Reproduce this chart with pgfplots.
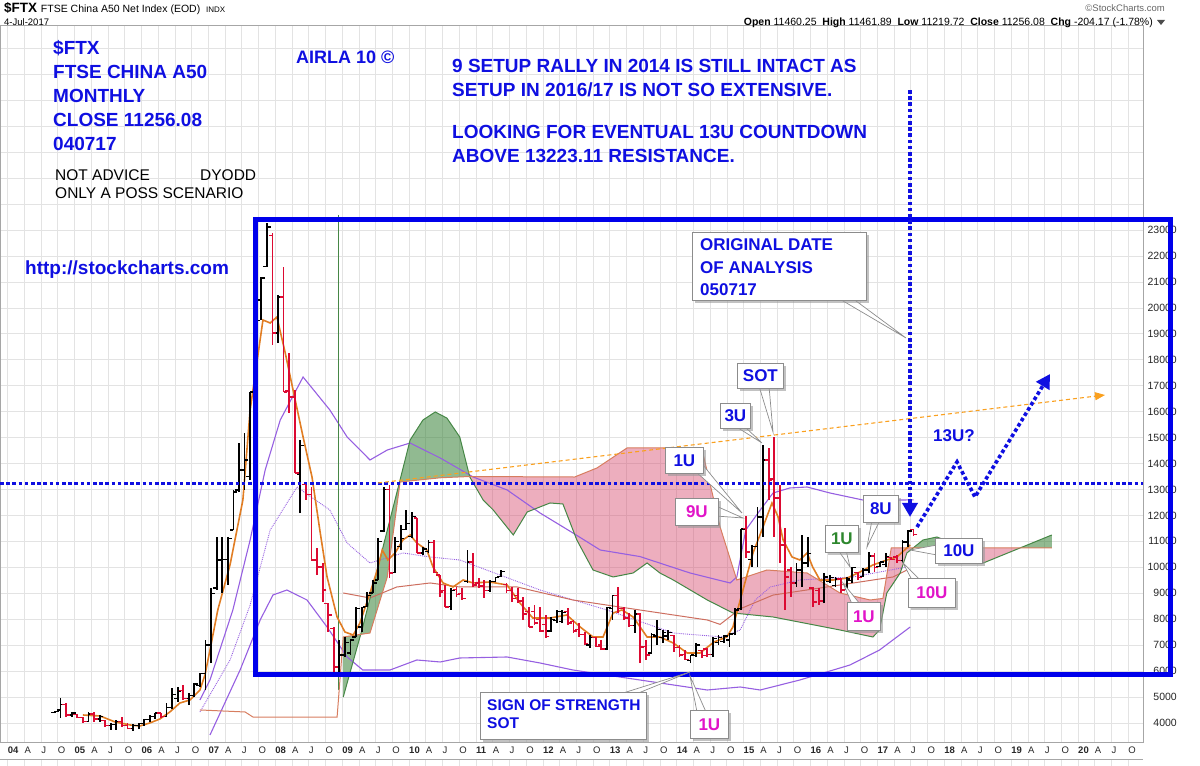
\documentclass[border=0pt]{standalone}
\usepackage{fontspec}
\setmainfont{Liberation Sans}
\usepackage{pgfplots}
\pgfplotsset{compat=1.18}
\usepackage{pgfplotstable}
\usepgfplotslibrary{fillbetween}
\usetikzlibrary{arrows.meta,shadows}

\definecolor{cblue}{RGB}{15,15,225}
\definecolor{rectblue}{RGB}{0,0,235}
\definecolor{cmag}{RGB}{225,20,200}
\definecolor{cgrn}{RGB}{45,135,45}
\definecolor{barred}{RGB}{220,10,50}
\definecolor{maorange}{RGB}{225,125,35}
\definecolor{bbviolet}{RGB}{150,95,225}
\definecolor{smabrown}{RGB}{205,110,95}
\definecolor{spanAc}{RGB}{70,135,70}
\definecolor{spanBc}{RGB}{215,125,95}
\definecolor{cloudgrn}{RGB}{55,130,55}
\definecolor{cloudpink}{RGB}{215,75,110}
\definecolor{trend}{RGB}{250,160,30}

% monthly bars, k = month index from Jan 2004
\pgfplotstableread{
k O H L C
8 4400 4470 4380 4430
9 4500 4960 4190 4700
11 4310 4430 4230 4380
14 4060 4435 4050 4350
16 4150 4300 4050 4250
18 3900 4000 3730 3950
19 3950 4116 3730 4050
22 3800 3950 3700 3900
23 3900 4000 3750 3980
24 3980 4150 3900 4130
25 4130 4300 4050 4250
26 4250 4400 4150 4380
28 4250 4770 4230 4600
29 4600 5350 4550 5100
30 4950 5390 4810 5200
32 4950 5160 4690 5050
33 5050 5540 5000 5500
34 5450 5930 5390 5900
35 5900 7200 5270 7000
36 7000 9200 6310 9000
37 9200 11170 9130 10280
38 10280 11170 9010 10300
39 10300 11170 9320 11100
40 11440 12980 11440 12900
41 12980 14790 12900 13750
42 13750 15180 12980 14140
43 13500 16760 13370 16760
44 16760 19800 16500 19500
45 20300 21190 19530 21150
46 21600 23270 21575 23120
48 19030 20490 18650 20420
52 13600 14900 12090 14700
59 6160 7200 5965 6620
60 6620 7310 6540 7100
61 6700 7200 6620 7200
62 7310 8470 7310 8400
63 7700 8470 7500 8450
64 8500 9050 8470 8900
65 9010 9510 9010 9400
66 9510 11130 9510 11000
67 11400 13100 11360 13000
69 9800 11170 9780 11000
70 10800 11630 10670 11100
71 11450 12200 11440 11700
72 11200 12130 11130 11950
74 10550 10780 10470 10700
75 10600 11050 10550 10950
79 8500 9200 8355 9100
82 9450 10670 9400 10200
86 9100 9510 9050 9450
87 9450 9630 9430 9600
88 9650 9900 9630 9850
97 7550 8085 7510 8000
98 7950 8355 7850 8300
99 7900 8355 7850 8250
104 7000 7390 6890 7300
107 6850 8470 6810 8450
108 8400 8930 7970 8900
112 7750 8355 7470 8200
115 6700 7470 6700 7400
116 7350 7970 7000 7590
117 7300 7580 7080 7500
118 7350 7580 7200 7500
122 6400 6620 6310 6620
123 6600 7080 6540 7000
126 6650 7310 6540 7250
127 7100 7390 7000 7300
128 7150 7390 7080 7350
129 7200 7470 6930 7430
130 7450 8430 7390 8360
131 8400 11480 8350 11480
133 10300 10860 10010 10800
134 10800 12320 10010 11940
135 11940 14710 11170 14140
141 9400 10170 9240 9900
142 9900 11250 9240 10170
143 10170 11170 10010 10520
146 8700 9780 8620 9630
147 9450 9700 9400 9600
148 9300 9630 9240 9550
150 9150 9630 9150 9550
151 9500 10010 9400 9980
153 9650 9980 9630 9900
154 9900 10590 9780 10440
156 10020 10220 10010 10200
157 10100 10550 10010 10400
160 10250 11050 10170 10980
161 10980 11440 10780 11400
}\upbars

\pgfplotstableread{
k O H L C
10 4700 4770 4230 4310
12 4320 4340 4190 4220
13 4220 4240 4000 4050
15 4350 4430 4050 4150
17 4100 4120 3850 3900
20 4050 4230 3850 3900
21 3900 4000 3750 3800
27 4380 4400 4200 4250
31 5250 5460 4890 4950
47 22800 22880 18570 19030
49 20420 21580 16760 16760
50 16800 18260 15950 16560
51 16560 16830 13640 13640
53 13200 13250 12600 12800
54 12800 13100 10280 10280
55 10280 10740 9700 10010
56 10010 10170 8660 9130
57 8600 8620 7510 8160
58 7650 7700 5965 6160
68 13000 13170 9590 9780
73 11900 11900 10550 10550
76 10950 11050 9780 9800
77 9700 9700 8860 9050
78 9100 9320 8470 8470
80 9150 9240 8860 8950
81 9000 9200 8740 8800
83 10200 10550 9240 9320
84 9400 9590 9200 9250
85 9300 9510 8820 9100
89 9350 9400 9010 9100
90 9100 9240 8660 8800
91 8900 9200 8620 8700
92 8700 8860 7970 8200
93 8300 8470 7700 7700
94 8300 8550 7780 7850
95 8000 8470 7510 7550
96 7800 8160 7280 7330
100 8300 8430 7780 7850
101 7900 7970 7470 7550
102 7600 7850 7310 7400
103 7400 7510 7000 7050
105 7300 7310 6930 6960
106 7000 7200 6810 6850
109 8900 9240 8240 8400
110 8400 8470 7970 8050
111 8050 8240 7700 7750
113 8200 8240 6310 6930
114 6950 7200 6430 6620
119 7380 7390 6740 6900
120 6900 7000 6540 6620
121 6650 6810 6430 6450
124 6800 6810 6500 6600
125 6850 6890 6540 6650
132 11500 11980 10360 10590
136 14140 14600 12600 13370
137 13400 15020 11170 12670
138 12670 13170 10170 10860
139 10860 11520 8350 9630
140 9900 10010 8860 9400
144 9200 9240 8470 8660
145 9100 9200 8550 8700
149 9550 9590 9010 9130
152 9800 9820 9510 9600
155 10440 10550 9820 10000
158 10380 10400 10280 10300
159 10400 10470 10170 10250
162 11460 11462 11220 11256
}\dnbars

\tikzset{
  bt/.style={anchor=base west, inner sep=0, text=cblue, font=\fontsize{19}{22}\selectfont\bfseries},
  cb/.style={draw=black!45, fill=white, line width=0.8pt, inner sep=0, anchor=north west,
    font=\fontsize{17}{19}\selectfont\bfseries, text=cblue,
    drop shadow={shadow xshift=2.5pt, shadow yshift=-2.5pt, fill=black!40, opacity=0.6}},
  ptr/.style={fill=white, draw=black!45, line width=0.7pt},
  bluedot/.style={draw=cblue, line width=3.6pt, dash pattern=on 3.6pt off 2.6pt},
}

\begin{document}
\begin{tikzpicture}[x=1pt,y=1pt]

\begin{axis}[
  at={(0,24)}, anchor=south west, scale only axis,
  width=1143pt, height=717pt,
  xmin=-1.865, xmax=203.15, ymin=3267, ymax=30901,
  axis line style={draw=black!35},
  tick style={draw=none},
  scaled y ticks=false, scaled x ticks=false,
  xtick={-0.5,2.5,...,200.5},
  xticklabels={\textbf{04},A,J,O,\textbf{05},A,J,O,\textbf{06},A,J,O,\textbf{07},A,J,O,\textbf{08},A,J,O,\textbf{09},A,J,O,\textbf{10},A,J,O,\textbf{11},A,J,O,\textbf{12},A,J,O,\textbf{13},A,J,O,\textbf{14},A,J,O,\textbf{15},A,J,O,\textbf{16},A,J,O,\textbf{17},A,J,O,\textbf{18},A,J,O,\textbf{19},A,J,O,\textbf{20},A,J,O},
  xticklabel style={anchor=north west, inner sep=0, xshift=0pt, yshift=-5pt, font=\fontsize{9.5}{10}\selectfont, text=black!85},
  ytick={4000,5000,...,30000},
  yticklabels={4000,5000,6000,7000,8000,9000,10000,11000,12000,13000,14000,15000,16000,17000,18000,19000,20000,21000,22000,23000,{},{},{},{},{},{},{},{}},
  yticklabel pos=right,
  yticklabel style={anchor=east, inner sep=0, xshift=34pt, font=\fontsize{10.5}{11}\selectfont, text=black!85},
  grid=major, major grid style={draw=black!11, line width=0.6pt},
]
\coordinate (pa) at (rel axis cs:0,0);

% Bollinger bands
\addplot[bbviolet, line width=1.1pt] coordinates {(34.0,4886) (35.8,5657) (39.9,8355) (43.0,11053) (45.7,13750) (48.4,15677) (52.5,17334) (57.3,16063) (60.4,15022) (64.5,14136) (67.6,14521) (71.7,14791) (77.1,14213) (83.0,13480) (89.1,12980) (95.0,12094) (100.9,11323) (105.8,10667) (112.9,10415) (121.9,9781) (129.1,9396) (130.3,9627) (131.9,11438) (134.5,12209) (136.8,12864) (139.8,13057) (142.9,13095) (147.0,12864) (152.9,12594) (160.1,12594) (162,12600)};
\addplot[bbviolet, line width=1.1pt] coordinates {(35.8,3537) (41.2,6042) (44.8,7969) (47.1,8933) (49.6,9125) (53.2,8740) (56.8,7700) (60.4,6543) (63.2,6042) (68.1,6042) (72.9,6428) (77.1,6351) (80.6,6505) (89.1,6543) (95.0,6312) (100.9,6042) (112.9,5657) (125.0,5271) (130.9,5387) (134.5,5271) (141.6,5657) (150.6,6235) (155.9,6813) (161.4,7700)};
\addplot[bbviolet, line width=0.9pt, densely dotted] coordinates {(34.0,4424) (39.4,6428) (43.0,8547) (46.6,11438) (51.4,13095) (57.3,12209) (60.4,10937) (64.5,10166) (70.4,10552) (75.3,10397) (80.6,10282) (95.0,9125) (107.0,8355) (118.9,7468) (127.8,7314) (130.9,7584) (133.6,8740) (136.3,9241) (141.6,9511) (151.1,9627) (160.8,10012)};
% slow moving average
\addplot[smabrown, line width=1pt] coordinates {(59.7,9010) (64.5,8817) (69.3,9241) (75.3,9396) (80.6,9241) (90.9,9241) (100.9,8740) (112.9,8355) (125.0,7969) (127.3,7800) (130.9,8400) (136.8,8930) (148.8,9318) (158.3,9627) (160.8,9896)};

% Ichimoku spans
\addplot[spanAc, line width=0.8pt] coordinates {(58.8,23578) (58.8,5271)};
\addplot[spanAc, line width=1pt, name path=A] coordinates {(59.7,5000) (63.2,7700) (69.3,12864) (71.7,14906) (74.0,15677) (76.2,15986) (78.3,15750) (80.6,15022) (82.4,13480) (84.8,12594) (86.6,12209) (90.2,11246) (92.7,12132) (96.8,12479) (99.1,12440) (101.6,11053) (104.5,9896) (108.1,9627) (111.7,9781) (114.2,10166) (116.5,9781) (118.9,9511) (125.0,8740) (129.6,8239) (136.8,8085) (148.8,7584) (154.7,7314) (155.9,7584) (157.2,9010) (159.6,9781) (160.8,10552) (163.7,11053) (166.2,11168) (170.5,10800) (174.5,10166) (181.1,10745) (186.8,11246)};
\addplot[spanBc, line width=1pt, name path=B] coordinates {(34.0,4501) (42.1,4424) (43.5,4230) (58.6,4230) (59.7,7314) (64.5,7468) (67.6,9627) (69.9,13288) (77.1,13450) (82.4,13500) (101.2,13480) (105.2,13827) (110.6,14598) (124.0,14598) (127.3,11554) (130.3,9511) (135.7,9896) (142.9,9781) (148.8,9010) (154.2,8740) (156.5,8800) (158.0,10745) (186.8,10745)};
\addplot[fill=cloudgrn, fill opacity=0.55, draw=none] fill between[of=A and B, soft clip={domain=59.7:82.4}];
\addplot[fill=cloudpink, fill opacity=0.45, draw=none] fill between[of=A and B, soft clip={domain=82.4:161.8}];
\addplot[fill=cloudgrn, fill opacity=0.55, draw=none] fill between[of=A and B, soft clip={domain=161.8:171}];
\addplot[fill=cloudpink, fill opacity=0.45, draw=none] fill between[of=A and B, soft clip={domain=171:181.1}];
\addplot[fill=cloudgrn, fill opacity=0.55, draw=none] fill between[of=A and B, soft clip={domain=181.1:186.8}];

% fast moving average
\addplot[maorange, line width=1.6pt] coordinates {(13.0,4308) (16.1,4269) (18.8,4038) (21.5,3923) (23.2,3884) (25.0,4000) (26.8,4153) (28.6,4424) (30.4,4770) (32.2,4886) (34.0,5271) (34.9,5850) (35.8,6813) (37.2,8355) (39.4,10100) (41.7,12594) (43.0,16063) (45.3,19531) (46.6,19416) (47.8,19647) (49.3,18260) (50.7,16833) (52.5,15022) (54.1,13480) (55.5,11438) (56.8,9627) (58.6,8085) (60.0,7507) (61.5,7391) (62.7,7854) (64.5,9010) (65.8,9896) (66.7,10667) (67.7,10282) (69.0,10552) (70.4,11053) (71.7,11246) (72.9,10937) (74.7,10667) (75.8,10012) (77.6,9396) (79.4,9241) (81.2,9511) (83.0,9396) (86.0,9434) (89.1,9318) (91.4,8624) (93.7,8046) (96.8,8046) (99.8,8162) (102.2,7700) (104.5,7314) (106.3,7314) (108.1,8239) (109.7,8355) (111.7,8085) (114.2,7314) (116.5,7314) (118.9,7083) (121.4,6697) (123.7,6697) (126.2,7121) (128.5,7314) (129.6,7700) (131.4,9125) (133.2,10552) (135.0,11554) (136.6,12479) (137.7,11940) (138.6,11053) (140.2,10397) (141.6,10282) (142.9,10552) (143.9,10012) (145.2,9511) (147.6,9511) (150.1,9588) (152.4,9819) (154.7,10089) (157.2,10282) (159.0,10397) (161.4,10860)};

% OHLC bars
\addplot[draw=none, error bars/.cd, y dir=plus, y explicit, error mark=none, error bar style={draw=black, line width=1.8pt}] table[x=k, y=L, y error plus expr=\thisrow{H}-\thisrow{L}] {\upbars};
\addplot[only marks, mark=-, mark size=1.9pt, mark options={xshift=-1.9pt, draw=black, line width=1.3pt}] table[x=k, y=O] {\upbars};
\addplot[only marks, mark=-, mark size=1.9pt, mark options={xshift=1.9pt, draw=black, line width=1.3pt}] table[x=k, y=C] {\upbars};
\addplot[draw=none, error bars/.cd, y dir=plus, y explicit, error mark=none, error bar style={draw=barred, line width=1.8pt}] table[x=k, y=L, y error plus expr=\thisrow{H}-\thisrow{L}] {\dnbars};
\addplot[only marks, mark=-, mark size=1.9pt, mark options={xshift=-1.9pt, draw=barred, line width=1.3pt}] table[x=k, y=O] {\dnbars};
\addplot[only marks, mark=-, mark size=1.9pt, mark options={xshift=1.9pt, draw=barred, line width=1.3pt}] table[x=k, y=C] {\dnbars};

% resistance 13223.11
\addplot[bluedot] coordinates {(-1.865,13223.11) (203.15,13223.11)};
\end{axis}

% annotations in pixel coordinates: origin top-left of the page
\begin{scope}[shift={(pa)}, yshift=742pt, y=-1pt]
% lower panel strip
\draw[black!35] (0,759.5) -- (1143,759.5);
\foreach \i in {0,...,67} \draw[black!11, line width=0.6pt] ({7.61+16.725*\i},760) -- ({7.61+16.725*\i},766);

% header
\node[anchor=base west, inner sep=0] at (4,13) {\fontsize{13.5}{15}\selectfont\bfseries\$FTX\ \fontsize{10.5}{12}\selectfont\mdseries FTSE China A50 Net Index (EOD)\ \ \fontsize{8}{9}\selectfont INDX};
\node[anchor=base west, inner sep=0] at (4,26) {\fontsize{9.5}{10}\selectfont 4-Jul-2017};
\node[anchor=base east, inner sep=0, text=black!60] at (1165,12) {\fontsize{9.5}{10}\selectfont ©StockCharts.com};
\node[anchor=base east, inner sep=0] at (1153,26) {\fontsize{10.5}{11}\selectfont\textbf{Open} 11460.25\ \ \textbf{High} 11461.89\ \ \textbf{Low} 11219.72\ \ \textbf{Close} 11256.08\ \ \textbf{Chg} -204.17 (-1.78\%)};
\fill[black!70] (1157,20) -- (1165,20) -- (1161,25) -- cycle;

% thick frame
\draw[rectblue, line width=5pt] (255,220) rectangle (1170,675);

% trend line and scenario path
\draw[trend, line width=1.1pt, dash pattern=on 4pt off 3pt, -{Triangle[length=10pt,width=8pt]}] (378,483) -- (1105,395);
\draw[bluedot, -{Triangle[length=14pt,width=15pt,fill=cblue]}] (910,90) -- (910,517);
\draw[bluedot, -{Triangle[length=14pt,width=15pt,fill=cblue]}] (917,527) -- (957,462) -- (975,497) -- (1050,374);

% callouts
\filldraw[ptr] (838,298) -- (906,338) -- (852,298) -- cycle;
\node[cb, minimum width=174pt, minimum height=68pt] at (692,232) {};
\node[bt, font=\fontsize{17}{19}\selectfont\bfseries] at (700,251) {ORIGINAL DATE};
\node[bt, font=\fontsize{17}{19}\selectfont\bfseries] at (700,274) {OF ANALYSIS};
\node[bt, font=\fontsize{17}{19}\selectfont\bfseries] at (700,296) {050717};

\filldraw[ptr] (759,386) -- (773,432) -- (769,386) -- cycle;
\node[cb, minimum width=46pt, minimum height=25pt] at (737,363) {SOT};
\filldraw[ptr] (735,426) -- (762,443) -- (744,426) -- cycle;
\node[cb, minimum width=30pt, minimum height=25pt] at (720,403) {3U};
\filldraw[ptr] (695,471) -- (742,513) -- (703,465) -- cycle;
\node[cb, minimum width=38pt, minimum height=26pt] at (665,447) {1U};
\filldraw[ptr] (716,506) -- (743,518) -- (716,516) -- cycle;
\node[cb, minimum width=43pt, minimum height=27pt, text=cmag] at (675,498) {9U};
\filldraw[ptr] (838,550) -- (850,567) -- (846,550) -- cycle;
\node[cb, minimum width=33pt, minimum height=27pt, text=cgrn] at (825,525) {1U};
\filldraw[ptr] (872,520) -- (867,547) -- (880,520) -- cycle;
\node[cb, minimum width=35pt, minimum height=27pt] at (863,495) {8U};
\filldraw[ptr] (937,545) -- (910,550) -- (937,555) -- cycle;
\node[cb, minimum width=47pt, minimum height=25pt] at (935,538) {10U};
\filldraw[ptr] (912,580) -- (903,563) -- (920,580) -- cycle;
\node[cb, minimum width=47pt, minimum height=29pt, text=cmag] at (908,578) {10U};
\filldraw[ptr] (852,604) -- (843,583) -- (860,604) -- cycle;
\node[cb, minimum width=33pt, minimum height=28pt, text=cmag] at (847,602) {1U};
\filldraw[ptr] (697,712) -- (690,676) -- (706,712) -- cycle;
\node[cb, minimum width=38pt, minimum height=28pt, text=cmag] at (690,710) {1U};
\filldraw[ptr] (620,694) -- (690,672) -- (636,694) -- cycle;
\node[cb, minimum width=166pt, minimum height=47pt] at (480,692) {};
\node[bt, font=\fontsize{15.5}{18}\selectfont\bfseries] at (487,711) {SIGN OF STRENGTH};
\node[bt, font=\fontsize{15.5}{18}\selectfont\bfseries] at (487,729) {SOT};

% free text
\node[bt] at (53,55) {\$FTX};
\node[bt] at (53,79) {FTSE CHINA A50};
\node[bt] at (53,103) {MONTHLY};
\node[bt] at (53,127) {CLOSE 11256.08};
\node[bt] at (53,151) {040717};
\node[bt, text=black, font=\fontsize{15.5}{18}\selectfont] at (55,181) {NOT ADVICE};
\node[bt, text=black, font=\fontsize{15.5}{18}\selectfont] at (200,181) {DYODD};
\node[bt, text=black, font=\fontsize{15.5}{18}\selectfont] at (55,199) {ONLY A POSS SCENARIO};
\node[bt, font=\fontsize{18}{20}\selectfont\bfseries] at (296,64) {AIRLA 10 ©};
\node[bt] at (452,73) {9 SETUP RALLY IN 2014 IS STILL INTACT AS};
\node[bt] at (452,97) {SETUP IN 2016/17 IS NOT SO EXTENSIVE.};
\node[bt] at (452,139) {LOOKING FOR EVENTUAL 13U COUNTDOWN};
\node[bt] at (452,163) {ABOVE 13223.11 RESISTANCE.};
\node[bt] at (25,275) {http://stockcharts.com};
\node[bt, font=\fontsize{17}{19}\selectfont\bfseries] at (933,442) {13U?};

\pgfresetboundingbox
\path[use as bounding box] (0,0) rectangle (1200,766);
\end{scope}
\end{tikzpicture}
\end{document}
